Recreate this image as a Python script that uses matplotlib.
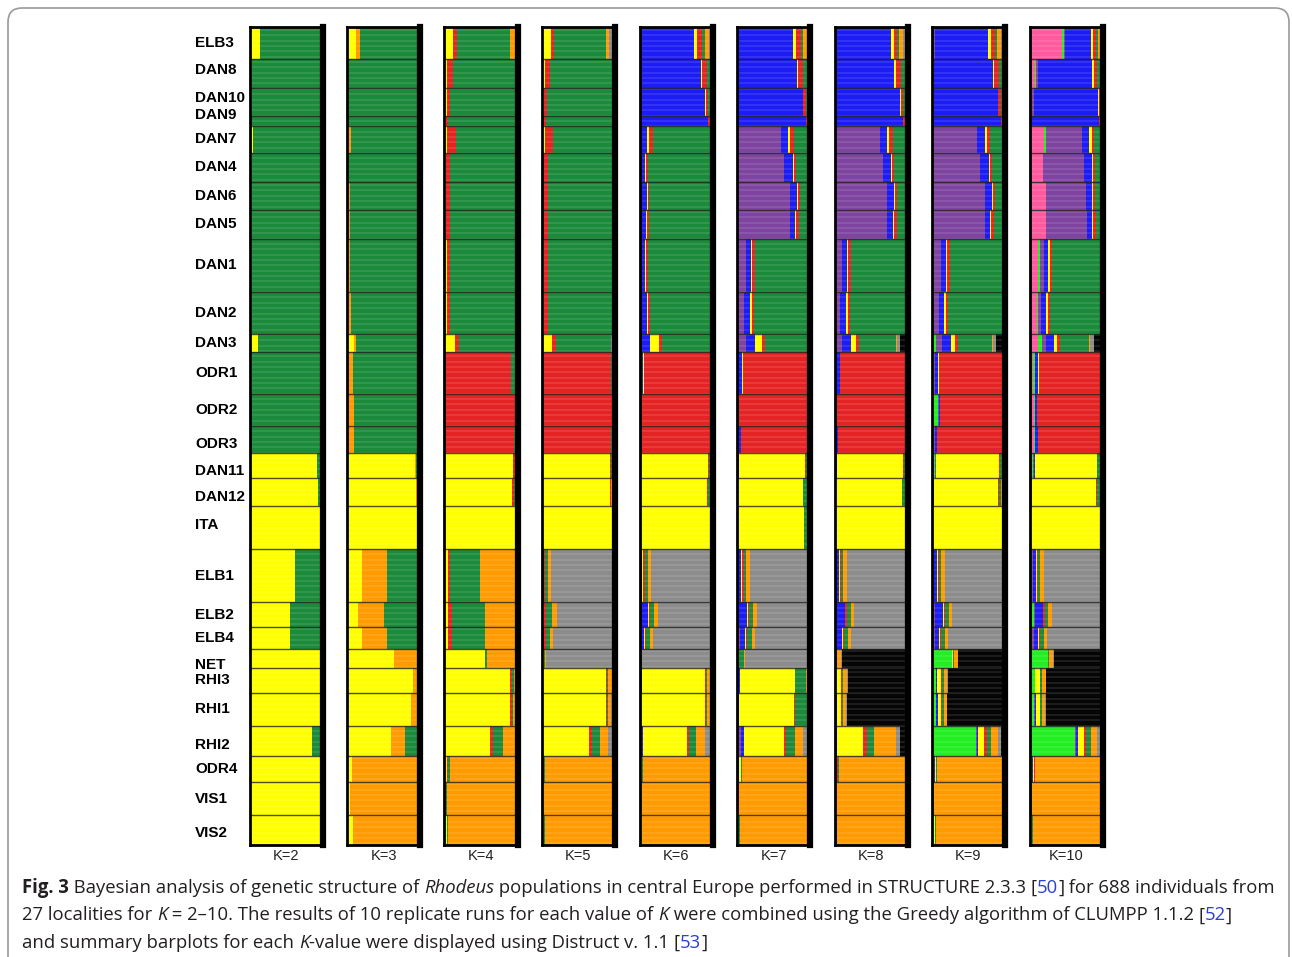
import numpy as np
import matplotlib
matplotlib.use("Agg")
import matplotlib.pyplot as plt
from matplotlib.patches import FancyBboxPatch
from matplotlib.transforms import IdentityTransform

W, H = 1292, 957

POPS = ['ELB3', 'DAN8', 'DAN10', 'DAN9', 'DAN7', 'DAN4', 'DAN6', 'DAN5', 'DAN1',
        'DAN2', 'DAN3', 'ODR1', 'ODR2', 'ODR3', 'DAN11', 'DAN12', 'ITA', 'ELB1',
        'ELB2', 'ELB4', 'NET', 'RHI3', 'RHI1', 'RHI2', 'ODR4', 'VIS1', 'VIS2']
SIZES = [27, 24, 24, 8, 23, 24, 24, 24, 45, 35, 15, 36, 27, 22, 21, 24, 36, 45,
         21, 18, 16, 21, 28, 25, 22, 28, 25]

COLORS = {'Y': '#FFFF00', 'G': '#1B8A3A', 'O': '#FF9A00', 'R': '#E42424',
          'Gr': '#8C8C8C', 'B': '#1C1CF5', 'P': '#7E44A0', 'Bk': '#050505',
          'L': '#22EE22', 'Pk': '#FF5A9E'}

# cluster order (left -> right) for each K
ORDER = {
    2: ['Y', 'G'],
    3: ['Y', 'O', 'G'],
    4: ['Y', 'R', 'G', 'O'],
    5: ['Y', 'R', 'G', 'O', 'Gr'],
    6: ['B', 'Y', 'R', 'G', 'O', 'Gr'],
    7: ['P', 'B', 'Y', 'R', 'G', 'O', 'Gr'],
    8: ['P', 'B', 'Y', 'R', 'G', 'O', 'Gr', 'Bk'],
    9: ['L', 'P', 'B', 'Y', 'R', 'G', 'O', 'Gr', 'Bk'],
    10: ['Pk', 'L', 'P', 'B', 'Y', 'R', 'G', 'O', 'Gr', 'Bk'],
}

# mean membership per population (rows follow POPS)
K2 = [[.15, .85], [.03, .97], [.03, .97], [.02, .98], [.05, .95], [.03, .97],
      [.03, .97], [.03, .97], [.03, .97], [.04, .96], [.12, .88], [.03, .97],
      [.02, .98], [.02, .98], [.93, .07], [.94, .06], [.97, .03], [.62, .38],
      [.55, .45], [.55, .45], [.98, .02], [.96, .04], [.98, .02], [.85, .15],
      [.97, .03], [.98, .02], [.97, .03]]
K3 = [[.12, .06, .82], [.02, .01, .97], [.02, .01, .97], [.01, .01, .98],
      [.03, .03, .94], [.02, .01, .97], [.02, .02, .96], [.02, .02, .96],
      [.03, .01, .96], [.03, .02, .95], [.10, .03, .87], [.02, .06, .92],
      [.02, .08, .90], [.02, .08, .90], [.93, .02, .05], [.95, .02, .03],
      [.97, .01, .02], [.20, .35, .45], [.15, .35, .50], [.20, .35, .45],
      [.65, .33, .02], [.90, .08, .02], [.88, .10, .02], [.60, .20, .20],
      [.07, .90, .03], [.04, .95, .01], [.08, .90, .02]]
K4 = [[.12, .05, .73, .10], [.04, .08, .87, .01], [.03, .04, .92, .01],
      [.02, .03, .94, .01], [.04, .12, .83, .01], [.02, .06, .91, .01],
      [.02, .06, .91, .01], [.02, .06, .91, .01], [.03, .05, .91, .01],
      [.03, .05, .91, .01], [.15, .05, .79, .01], [.01, .90, .08, .01],
      [.01, .95, .03, .01], [.01, .94, .04, .01], [.94, .02, .03, .01],
      [.93, .02, .03, .02], [.97, .01, .01, .01], [.05, .03, .40, .52],
      [.05, .05, .45, .45], [.05, .05, .45, .45], [.55, .01, .02, .42],
      [.90, .02, .03, .05], [.90, .02, .02, .06], [.62, .04, .14, .20],
      [.03, .02, .02, .93], [.01, .01, .01, .97], [.03, .01, .01, .95]]
K5 = [[.12, .05, .70, .05, .08], [.04, .07, .88, .00, .01], [.03, .04, .90, .00, .03],
      [.02, .03, .94, .00, .01], [.04, .11, .82, .01, .02], [.02, .06, .90, .01, .01],
      [.02, .06, .90, .01, .01], [.02, .06, .90, .01, .01], [.03, .05, .90, .01, .01],
      [.03, .05, .90, .01, .01], [.14, .05, .75, .01, .05], [.01, .93, .02, .01, .03],
      [.01, .95, .01, .01, .02], [.01, .94, .01, .01, .03], [.93, .01, .02, .02, .02],
      [.93, .01, .01, .02, .03], [.97, .01, .01, .00, .01], [.02, .02, .04, .05, .87],
      [.03, .03, .08, .06, .80], [.02, .03, .06, .04, .85], [.03, .00, .01, .01, .95],
      [.88, .01, .02, .05, .04], [.88, .01, .02, .04, .05], [.65, .04, .10, .12, .09],
      [.02, .01, .01, .95, .01], [.01, .00, .01, .97, .01], [.03, .00, .01, .95, .01]]
K6 = [[.75, .04, .06, .05, .05, .05], [.84, .02, .06, .07, .00, .01],
      [.90, .01, .03, .05, .00, .01], [.94, .00, .02, .03, .00, .01],
      [.10, .03, .06, .80, .00, .01], [.08, .01, .03, .87, .00, .01],
      [.10, .01, .02, .86, .00, .01], [.09, .01, .03, .86, .00, .01],
      [.07, .02, .03, .87, .00, .01], [.10, .02, .03, .84, .00, .01],
      [.15, .12, .04, .66, .01, .02], [.05, .01, .90, .02, .00, .02],
      [.02, .00, .95, .01, .00, .02], [.03, .00, .94, .01, .00, .02],
      [.02, .92, .01, .03, .01, .01], [.01, .92, .01, .03, .02, .01],
      [.01, .97, .00, .01, .00, .01], [.04, .01, .02, .04, .05, .84],
      [.12, .01, .02, .05, .05, .75], [.06, .01, .02, .06, .04, .81],
      [.01, .01, .00, .01, .01, .96], [.03, .87, .01, .02, .04, .03],
      [.02, .88, .01, .02, .04, .03], [.05, .60, .03, .10, .12, .10],
      [.01, .02, .01, .01, .94, .01], [.00, .01, .00, .01, .97, .01],
      [.00, .03, .00, .01, .95, .01]]
K7 = [[.02, .75, .04, .06, .04, .05, .04], [.02, .80, .02, .07, .07, .00, .02],
      [.02, .88, .01, .03, .05, .00, .01], [.01, .94, .00, .02, .02, .00, .01],
      [.60, .10, .03, .05, .20, .01, .01], [.65, .12, .01, .03, .18, .00, .01],
      [.72, .10, .01, .03, .13, .00, .01], [.72, .08, .01, .04, .14, .00, .01],
      [.12, .07, .02, .03, .75, .00, .01], [.10, .08, .02, .03, .76, .00, .01],
      [.12, .12, .10, .04, .58, .01, .03], [.02, .05, .01, .89, .01, .00, .02],
      [.01, .02, .00, .95, .00, .00, .02], [.01, .04, .00, .93, .01, .00, .01],
      [.01, .02, .90, .01, .04, .01, .01], [.01, .01, .88, .01, .06, .02, .01],
      [.00, .02, .90, .00, .07, .00, .01], [.02, .04, .01, .02, .04, .05, .82],
      [.02, .12, .01, .02, .05, .05, .73], [.04, .07, .01, .02, .06, .04, .76],
      [.00, .00, .00, .00, .10, .01, .89], [.01, .03, .75, .01, .15, .03, .02],
      [.01, .02, .75, .01, .17, .02, .02], [.05, .04, .55, .03, .12, .12, .09],
      [.02, .01, .02, .01, .01, .92, .01], [.00, .00, .01, .00, .01, .97, .01],
      [.00, .00, .03, .00, .01, .95, .01]]
K8 = [[.02, .75, .04, .05, .03, .05, .04, .02], [.02, .80, .02, .07, .06, .00, .01, .02],
      [.02, .88, .01, .03, .04, .00, .01, .01], [.01, .93, .00, .02, .02, .00, .01, .01],
      [.62, .10, .03, .05, .17, .01, .01, .01], [.66, .12, .01, .03, .16, .00, .01, .01],
      [.72, .10, .01, .03, .12, .00, .01, .01], [.72, .08, .01, .04, .13, .00, .01, .01],
      [.10, .07, .02, .03, .75, .00, .02, .01], [.08, .08, .02, .03, .76, .00, .02, .01],
      [.10, .12, .08, .04, .50, .01, .05, .10], [.02, .05, .01, .88, .01, .00, .02, .01],
      [.01, .02, .00, .94, .00, .00, .02, .01], [.01, .04, .00, .92, .01, .00, .01, .01],
      [.01, .02, .91, .01, .02, .01, .01, .01], [.01, .01, .90, .01, .03, .01, .01, .02],
      [.00, .02, .95, .00, .01, .00, .00, .02], [.02, .04, .01, .02, .03, .05, .82, .01],
      [.02, .12, .01, .02, .05, .05, .72, .01], [.03, .07, .01, .02, .05, .04, .77, .01],
      [.00, .00, .02, .00, .01, .06, .01, .90], [.00, .01, .08, .01, .02, .05, .01, .82],
      [.01, .02, .06, .01, .02, .04, .01, .83], [.02, .02, .35, .05, .10, .30, .06, .10],
      [.02, .01, .01, .01, .01, .92, .01, .01], [.00, .00, .01, .00, .01, .96, .01, .01],
      [.00, .00, .02, .00, .01, .93, .01, .03]]
K9 = [[.02, .02, .73, .04, .05, .03, .05, .04, .02], [.01, .02, .80, .02, .07, .05, .00, .01, .02],
      [.01, .02, .87, .01, .03, .04, .00, .01, .01], [.01, .01, .92, .00, .02, .02, .00, .01, .01],
      [.02, .60, .10, .03, .05, .17, .01, .01, .01], [.01, .65, .12, .01, .03, .16, .00, .01, .01],
      [.01, .71, .10, .01, .03, .12, .00, .01, .01], [.01, .71, .08, .01, .04, .13, .00, .01, .01],
      [.02, .10, .07, .02, .03, .73, .00, .02, .01], [.01, .08, .08, .02, .03, .75, .00, .02, .01],
      [.06, .08, .12, .06, .04, .46, .01, .05, .12], [.03, .01, .04, .01, .87, .01, .00, .02, .01],
      [.08, .01, .02, .00, .86, .00, .00, .02, .01], [.03, .01, .03, .00, .90, .01, .00, .01, .01],
      [.04, .01, .01, .86, .01, .03, .01, .01, .02], [.01, .01, .01, .88, .01, .03, .01, .01, .03],
      [.01, .00, .01, .94, .00, .01, .00, .00, .03], [.01, .02, .04, .01, .02, .03, .05, .81, .01],
      [.02, .02, .11, .01, .02, .05, .05, .71, .01], [.01, .03, .06, .01, .02, .05, .04, .77, .01],
      [.28, .00, .00, .01, .00, .01, .05, .01, .64], [.06, .00, .01, .06, .01, .02, .05, .01, .78],
      [.05, .01, .02, .05, .01, .02, .04, .01, .79], [.60, .01, .02, .08, .04, .06, .10, .04, .05],
      [.02, .01, .01, .01, .01, .01, .91, .01, .01], [.01, .00, .00, .01, .00, .01, .95, .01, .01],
      [.02, .00, .00, .02, .00, .01, .91, .01, .03]]
K10 = [[.45, .02, .02, .35, .03, .04, .03, .02, .03, .01], [.08, .01, .02, .75, .02, .05, .04, .00, .01, .02],
       [.03, .01, .02, .88, .01, .02, .02, .00, .00, .01], [.02, .00, .01, .92, .00, .02, .02, .00, .00, .01],
       [.20, .02, .50, .10, .03, .04, .09, .00, .01, .01], [.18, .01, .55, .12, .01, .03, .08, .00, .01, .01],
       [.22, .01, .55, .08, .01, .03, .08, .00, .01, .01], [.22, .01, .56, .07, .01, .04, .07, .00, .01, .01],
       [.12, .02, .06, .06, .02, .03, .66, .00, .02, .01], [.10, .01, .05, .07, .02, .03, .69, .00, .02, .01],
       [.12, .05, .06, .10, .05, .04, .40, .01, .05, .12], [.05, .02, .01, .04, .01, .83, .01, .00, .02, .01],
       [.06, .01, .01, .02, .00, .86, .01, .00, .02, .01], [.06, .01, .01, .03, .00, .85, .01, .00, .02, .01],
       [.01, .04, .01, .01, .85, .01, .03, .01, .01, .02], [.01, .01, .01, .01, .87, .01, .04, .01, .01, .02],
       [.00, .01, .00, .01, .94, .00, .01, .00, .00, .03], [.02, .01, .02, .04, .01, .02, .03, .05, .79, .01],
       [.04, .02, .02, .10, .01, .02, .05, .05, .68, .01], [.02, .01, .03, .06, .01, .02, .05, .04, .75, .01],
       [.00, .25, .00, .00, .01, .00, .01, .05, .01, .67], [.01, .06, .00, .01, .06, .01, .02, .05, .01, .77],
       [.01, .05, .01, .02, .05, .01, .02, .04, .01, .78], [.01, .62, .01, .03, .07, .04, .06, .08, .04, .04],
       [.01, .02, .01, .01, .01, .01, .01, .90, .01, .01], [.00, .01, .00, .00, .01, .00, .01, .95, .01, .01],
       [.00, .02, .00, .00, .02, .00, .01, .91, .01, .03]]
MEMBERSHIP = {2: K2, 3: K3, 4: K4, 5: K5, 6: K6, 7: K7, 8: K8, 9: K9, 10: K10}

# small vertical nudges (px) for crowded population labels
LABEL_NUDGE = {'DAN8': -3, 'DAN10': -4, 'DAN9': -6, 'ODR3': 4, 'DAN11': 6,
               'DAN12': 5, 'NET': 7, 'RHI2': 4, 'VIS2': 3, 'ITA': -3}

CAPTION = [
    [("Fig. 3", "bold"), (" Bayesian analysis of genetic structure of ", "normal"),
     ("Rhodeus", "italic"),
     (" populations in central Europe performed in STRUCTURE 2.3.3 ", "normal"),
     ("[", "normal"), ("50", "link"), ("]", "normal"),
     (" for 688 individuals from", "normal")],
    [("27 localities for ", "normal"), ("K", "italic"),
     (" = 2\u201310. The results of 10 replicate runs for each value of ", "normal"),
     ("K", "italic"),
     (" were combined using the Greedy algorithm of CLUMPP 1.1.2 ", "normal"),
     ("[", "normal"), ("52", "link"), ("]", "normal")],
    [("and summary barplots for each ", "normal"), ("K", "italic"),
     ("-value were displayed using Distruct v. 1.1 ", "normal"),
     ("[", "normal"), ("53", "link"), ("]", "normal")],
]

LABEL_FONT = ["Liberation Sans", "DejaVu Sans"]
CAP_FONT = ["Open Sans", "DejaVu Sans"]

fig = plt.figure(figsize=(W / 100, H / 100), dpi=100)
fig.patch.set_facecolor("white")

# rounded outer frame
fig.add_artist(FancyBboxPatch((8, -30), 1281, 949 + 30,
                              boxstyle="round,pad=0,rounding_size=14",
                              transform=IdentityTransform(),
                              facecolor="none", edgecolor="#9a9a9a", lw=1.2))

TOP, BOT = 27, 845
N = sum(SIZES)
sizes = np.array(SIZES, dtype=float)
starts = np.concatenate([[0], np.cumsum(sizes)[:-1]])
centers = starts + sizes / 2


def px_axes(x0, y0, w, h):
    return fig.add_axes([x0 / W, 1 - (y0 + h) / H, w / W, h / H])


for i, K in enumerate(range(2, 11)):
    x0 = 249.5 + 97.5 * i
    ax = px_axes(x0, TOP, 73, BOT - TOP)
    vals = np.array(MEMBERSHIP[K], dtype=float)
    vals = vals / vals.sum(axis=1, keepdims=True)
    left = np.zeros(len(POPS))
    for j, cl in enumerate(ORDER[K]):
        ax.barh(centers, vals[:, j], left=left, height=sizes,
                color=COLORS[cl], linewidth=0)
        left += vals[:, j]
    # individual striping
    ax.hlines(np.arange(2.5, N, 4.5), 0, 1, color="white", alpha=0.13, lw=1.1)
    ax.hlines(starts[1:], 0, 1, color="#222222", lw=1.0, alpha=0.8)
    ax.set_xlim(0, 1)
    ax.set_ylim(N, 0)
    ax.set_xticks([])
    ax.set_yticks([])
    for s in ax.spines.values():
        s.set_color("black")
        s.set_linewidth(2.0)
    ax.spines["right"].set_linewidth(4.5)
    fig.text((x0 + 36.5) / W, 1 - 856 / H, f"K={K}", ha="center", va="center",
             fontsize=10.5, family=LABEL_FONT, color="#222222")

# population labels
scale = (BOT - TOP) / N
for name, c in zip(POPS, centers):
    y = TOP + c * scale + LABEL_NUDGE.get(name, 0)
    fig.text(195 / W, 1 - y / H, name, ha="left", va="center",
             fontsize=11, weight="bold", family=LABEL_FONT, color="black")

# caption with mixed styles
renderer = fig.canvas.get_renderer()


def run_props(style, size):
    p = dict(fontsize=size, family=CAP_FONT, color="#231F20")
    if style == "bold":
        p["weight"] = "bold"
    elif style == "italic":
        p["style"] = "italic"
    elif style == "link":
        p["color"] = "#2A3FD6"
    return p


def text_width(txt, props):
    t = fig.text(0, 0, "." + txt + ".", **props)
    t2 = fig.text(0, 0, "..", **props)
    w = t.get_window_extent(renderer).width - t2.get_window_extent(renderer).width
    t.remove()
    t2.remove()
    return w


def line_width(runs, size):
    return sum(text_width(txt, run_props(st, size)) for txt, st in runs)


size = 13.0 * 1250 / line_width(CAPTION[0], 13.0)
baselines = [893, 920.5, 947.5]
for runs, yb in zip(CAPTION, baselines):
    x = 22
    for txt, st in runs:
        props = run_props(st, size)
        fig.text(x / W, 1 - yb / H, txt, va="baseline", ha="left", **props)
        x += text_width(txt, props)

fig.savefig("out.png", dpi=100, facecolor="white")
